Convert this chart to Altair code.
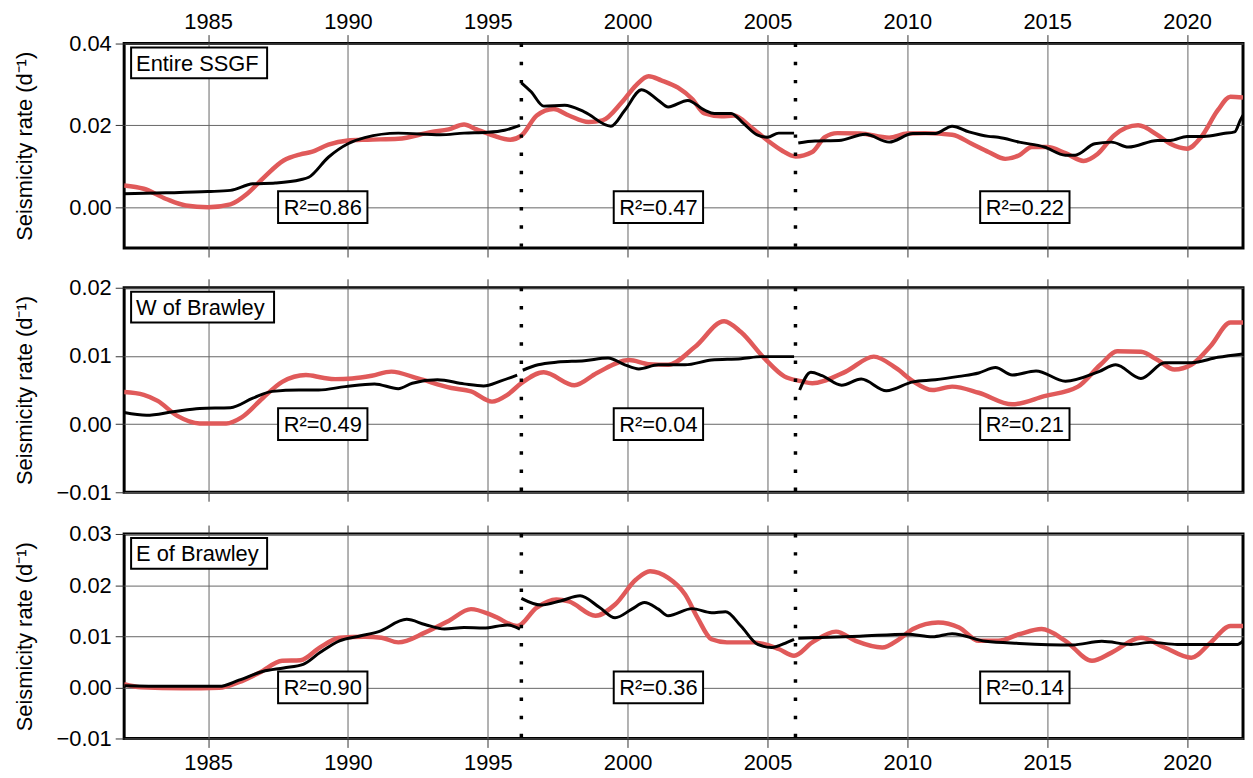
import altair as alt
import pandas as pd

FONT = "Liberation Sans"
RED = "#e05a5a"
YTITLE = "Seismicity rate (d⁻¹)"
X_TICKS = [1985, 1990, 1995, 2000, 2005, 2010, 2015, 2020]
BREAKS = [1996.2, 2006.0]
R2_YEARS = [1989.1, 2001.1, 2014.2]

# ---------------- Panel 1: Entire SSGF ----------------
p1_name = "Entire SSGF"
p1_r2 = ["R²=0.86", "R²=0.47", "R²=0.22"]
p1_red_year = [1982.0, 1982.7, 1983.5, 1984.2, 1985.0, 1985.8, 1986.4, 1987.0, 1987.7, 1988.3,
               1988.7, 1989.3, 1990.0, 1990.7, 1991.8, 1993.0, 1993.6, 1994.15, 1994.6, 1995.2,
               1995.8, 1996.2, 1996.75, 1997.35, 1997.9, 1998.6, 1999.1, 1999.8, 2000.3, 2000.75,
               2001.2, 2001.8, 2002.3, 2002.75, 2003.35, 2003.8, 2004.4, 2005.0, 2005.5, 2006.0,
               2006.6, 2007.05, 2007.5, 2008.3, 2009.35, 2010.0, 2010.65, 2011.6, 2012.3, 2012.9,
               2013.5, 2014.0, 2014.45, 2015.0, 2015.65, 2016.3, 2016.8, 2017.4, 2018.25, 2018.95,
               2019.4, 2020.0, 2020.5, 2021.1, 2021.55, 2022.0]
p1_red_rate = [0.0053, 0.0045, 0.0020, 0.0004, 0.0000, 0.0007, 0.0033, 0.0073, 0.0114, 0.0129,
               0.0135, 0.0153, 0.0163, 0.0165, 0.0167, 0.0184, 0.0190, 0.0202, 0.0190, 0.0175,
               0.0165, 0.0175, 0.0224, 0.0240, 0.0224, 0.0208, 0.0212, 0.0257, 0.0298, 0.0320,
               0.0310, 0.0292, 0.0265, 0.0229, 0.0222, 0.0224, 0.0196, 0.0163, 0.0139, 0.0124,
               0.0135, 0.0171, 0.0181, 0.0180, 0.0170, 0.0180, 0.0181, 0.0177, 0.0155, 0.0135,
               0.0118, 0.0127, 0.0147, 0.0147, 0.0132, 0.0113, 0.0130, 0.0176, 0.0200, 0.0176,
               0.0155, 0.0143, 0.0171, 0.0237, 0.0270, 0.0268]
p1_blk_year = [1982.0, 1983.5, 1985.0, 1985.8, 1986.6, 1987.4, 1988.3, 1988.6, 1989.3, 1990.0,
               1990.6, 1991.8, 1993.3, 1994.15, 1995.0, 1995.6, 1996.15,
               1996.2, 1996.55, 1997.0, 1997.75, 1998.45, 1999.4, 1999.9, 2000.5, 2001.1, 2001.45,
               2002.15, 2002.75, 2003.1, 2003.7, 2004.15, 2004.65, 2005.0, 2005.4, 2005.95,
               2006.1, 2006.7, 2007.55, 2008.5, 2009.35, 2010.2, 2011.0, 2011.6, 2012.2, 2012.9,
               2013.25, 2014.0, 2014.9, 2015.65, 2016.0, 2016.7, 2017.3, 2017.9, 2018.95, 2019.4,
               2020.0, 2020.6, 2021.3, 2021.7, 2021.9, 2022.0]
p1_blk_rate = [0.0033, 0.0035, 0.0038, 0.0041, 0.0057, 0.0059, 0.0067, 0.0073, 0.0122, 0.0155,
               0.0170, 0.0181, 0.0177, 0.0181, 0.0183, 0.0188, 0.0200,
               0.0304, 0.0282, 0.0247, 0.0249, 0.0233, 0.0198, 0.0237, 0.0287, 0.0261, 0.0245,
               0.0261, 0.0237, 0.0229, 0.0229, 0.0204, 0.0176, 0.0171, 0.0181, 0.0181,
               0.0157, 0.0162, 0.0163, 0.0178, 0.0159, 0.0180, 0.0180, 0.0198, 0.0184, 0.0173,
               0.0171, 0.0159, 0.0147, 0.0127, 0.0127, 0.0155, 0.0159, 0.0147, 0.0163, 0.0163,
               0.0173, 0.0173, 0.0180, 0.0184, 0.0212, 0.0225]
p1_blk_seg = [1] * 17 + [2] * 19 + [3] * 26

# ---------------- Panel 2: W of Brawley ----------------
p2_name = "W of Brawley"
p2_r2 = ["R²=0.49", "R²=0.04", "R²=0.21"]
p2_red_year = [1982.0, 1982.7, 1983.2, 1983.9, 1984.7, 1985.65, 1986.2, 1986.95, 1987.65, 1988.5,
               1989.1, 1989.55, 1990.15, 1990.85, 1991.55, 1992.5, 1993.7, 1994.4, 1995.15, 1995.7,
               1996.2, 1997.0, 1998.1, 1998.9, 2000.05, 2000.75, 2001.45, 2002.4, 2003.45, 2004.05,
               2004.9, 2005.6, 2006.2, 2006.6, 2007.8, 2008.8, 2009.6, 2010.2, 2010.9, 2011.6,
               2012.55, 2013.75, 2014.9, 2016.1, 2016.9, 2017.5, 2018.35, 2018.95, 2019.55, 2020.15,
               2020.85, 2021.55, 2022.0]
p2_red_rate = [0.0047, 0.0043, 0.0034, 0.0012, 0.0001, 0.0001, 0.0010, 0.0038, 0.0062, 0.0072,
               0.0068, 0.0066, 0.0067, 0.0071, 0.0077, 0.0067, 0.0053, 0.0048, 0.0033, 0.0043,
               0.0060, 0.0076, 0.0057, 0.0075, 0.0094, 0.0088, 0.0087, 0.0113, 0.0151, 0.0135,
               0.0096, 0.0070, 0.0063, 0.0060, 0.0077, 0.0099, 0.0082, 0.0063, 0.0050, 0.0055,
               0.0046, 0.0029, 0.0041, 0.0055, 0.0087, 0.0107, 0.0106, 0.0094, 0.0080, 0.0087,
               0.0115, 0.0149, 0.0149]
p2_blk_year = [1982.0, 1982.8, 1983.75, 1984.7, 1985.8, 1986.6, 1987.3, 1988.25, 1988.95, 1989.9,
               1990.95, 1991.8, 1992.3, 1993.2, 1994.15, 1994.85, 1995.45, 1996.05,
               1996.25, 1996.8, 1997.5, 1998.45, 1999.3, 1999.9, 2000.4, 2001.1, 2002.05, 2003.0,
               2004.05, 2004.8, 2005.95,
               2006.15, 2006.55, 2006.95, 2007.65, 2008.35, 2009.25, 2010.2, 2011.0, 2011.85, 2012.55,
               2013.15, 2013.75, 2014.6, 2015.65, 2016.85, 2017.45, 2018.35, 2019.2, 2020.15, 2021.1,
               2022.0]
p2_blk_rate = [0.0017, 0.0013, 0.0018, 0.0023, 0.0024, 0.0038, 0.0048, 0.0050, 0.0050, 0.0055,
               0.0059, 0.0052, 0.0060, 0.0065, 0.0059, 0.0056, 0.0063, 0.0072,
               0.0079, 0.0087, 0.0091, 0.0093, 0.0097, 0.0087, 0.0081, 0.0087, 0.0087, 0.0094,
               0.0096, 0.0099, 0.0099,
               0.0050, 0.0076, 0.0071, 0.0057, 0.0066, 0.0049, 0.0062, 0.0065, 0.0070, 0.0075,
               0.0083, 0.0072, 0.0078, 0.0063, 0.0077, 0.0087, 0.0067, 0.0090, 0.0090, 0.0098,
               0.0103]
p2_blk_seg = [1] * 18 + [2] * 13 + [3] * 21

# ---------------- Panel 3: E of Brawley ----------------
p3_name = "E of Brawley"
p3_r2 = ["R²=0.90", "R²=0.36", "R²=0.14"]
p3_red_year = [1982.0, 1982.6, 1984.1, 1985.4, 1986.1, 1986.85, 1987.65, 1988.3, 1989.0, 1989.7,
               1990.6, 1991.2, 1991.8, 1992.75, 1993.6, 1994.4, 1995.2, 1996.05, 1996.75, 1997.45,
               1997.9, 1998.85, 1999.55, 2000.3, 2000.8, 2001.45, 2002.05, 2002.5, 2003.0, 2003.55,
               2004.5, 2005.4, 2005.95, 2006.6, 2007.45, 2008.15, 2009.1, 2009.7, 2010.2, 2011.1,
               2011.85, 2012.55, 2013.25, 2014.0, 2014.8, 2015.65, 2016.6, 2017.3, 2018.35, 2019.2,
               2020.15, 2020.85, 2021.55, 2022.0]
p3_red_rate = [0.0006, 0.0000, -0.0002, -0.0001, 0.0010, 0.0029, 0.0052, 0.0053, 0.0078, 0.0097,
               0.0099, 0.0097, 0.0088, 0.0107, 0.0130, 0.0153, 0.0140, 0.0120, 0.0156, 0.0172,
               0.0168, 0.0140, 0.0162, 0.0211, 0.0227, 0.0214, 0.0182, 0.0136, 0.0094, 0.0088,
               0.0088, 0.0075, 0.0062, 0.0088, 0.0109, 0.0091, 0.0078, 0.0094, 0.0114, 0.0127,
               0.0117, 0.0091, 0.0091, 0.0104, 0.0114, 0.0091, 0.0052, 0.0068, 0.0097, 0.0078,
               0.0058, 0.0088, 0.0120, 0.0120]
p3_blk_year = [1982.0, 1983.5, 1985.4, 1986.1, 1986.95, 1987.7, 1988.4, 1989.0, 1989.7, 1990.4,
               1991.1, 1992.1, 1992.75, 1993.45, 1994.15, 1994.85, 1995.7, 1996.15,
               1996.2, 1996.9, 1997.6, 1998.3, 1999.0, 1999.55, 2000.15, 2000.6, 2001.1, 2001.45,
               2002.3, 2003.0, 2003.5, 2004.05, 2004.65, 2005.15, 2005.7, 2005.95,
               2006.1, 2006.6, 2008.3, 2010.0, 2010.9, 2011.6, 2012.8, 2014.0, 2015.9, 2016.95,
               2018.0, 2018.7, 2019.65, 2020.85, 2021.8, 2022.0]
p3_blk_rate = [0.0003, 0.0002, 0.0002, 0.0014, 0.0031, 0.0038, 0.0045, 0.0068, 0.0091, 0.0100,
               0.0109, 0.0133, 0.0123, 0.0114, 0.0117, 0.0116, 0.0122, 0.0114,
               0.0174, 0.0161, 0.0169, 0.0179, 0.0156, 0.0136, 0.0153, 0.0166, 0.0153, 0.0140,
               0.0154, 0.0146, 0.0148, 0.0120, 0.0084, 0.0078, 0.0088, 0.0094,
               0.0096, 0.0097, 0.0100, 0.0104, 0.0099, 0.0105, 0.0090, 0.0086, 0.0083, 0.0090,
               0.0084, 0.0088, 0.0084, 0.0084, 0.0084, 0.0091]
p3_blk_seg = [1] * 18 + [2] * 18 + [3] * 16

# per-panel axis setup
p1_domain, p1_yticks = [-0.01, 0.04], [0.0, 0.02, 0.04]
p2_domain, p2_yticks = [-0.01, 0.02], [-0.01, 0.0, 0.01, 0.02]
p3_domain, p3_yticks = [-0.01, 0.03], [-0.01, 0.0, 0.01, 0.02, 0.03]

W = 1127
H = 206


def panel(red_y, red_v, blk_y, blk_v, blk_s, domain, yticks, name, name_w, r2_labels,
          top_labels, bottom_labels):
    red = pd.DataFrame({"year": red_y, "rate": red_v})
    blk = pd.DataFrame({"year": blk_y, "rate": blk_v, "seg": blk_s})
    brk = pd.DataFrame({"year": BREAKS})
    r2 = pd.DataFrame({"year": R2_YEARS, "rate": [0.0] * len(R2_YEARS), "label": r2_labels})
    nm = pd.DataFrame({"name": [name]})

    xscale = alt.Scale(domain=[1982, 2022], nice=False, zero=False)
    yscale = alt.Scale(domain=domain, nice=False, zero=False)
    yaxis = alt.Axis(values=yticks, format=".2f", title=YTITLE, grid=True,
                     titleX=-88, titleY=H / 2, titleAngle=270, titleAlign="center",
                     titleBaseline="bottom", labelPadding=4)
    top_axis = alt.Axis(orient="top", values=X_TICKS, format="d", grid=True,
                        labels=top_labels, labelPadding=1, title=None)
    bot_axis = alt.Axis(orient="bottom", values=X_TICKS, format="d", grid=False,
                        labels=bottom_labels, labelPadding=5, title=None)

    red_line = alt.Chart(red).mark_line(color=RED, strokeWidth=4.5, interpolate="monotone",
                                        clip=True).encode(
        x=alt.X("year:Q", scale=xscale, axis=top_axis),
        y=alt.Y("rate:Q", scale=yscale, axis=yaxis),
    )
    blk_line = alt.Chart(blk).mark_line(color="black", strokeWidth=3, interpolate="monotone",
                                        clip=True).encode(
        x=alt.X("year:Q", scale=xscale, axis=bot_axis),
        y=alt.Y("rate:Q", scale=yscale, axis=yaxis),
        detail="seg:N",
    )
    rules = alt.Chart(brk).mark_rule(color="black", strokeWidth=3.5,
                                     strokeDash=[3.5, 14.8]).encode(
        x=alt.X("year:Q", scale=xscale, axis=None),
        y=alt.YDatum(domain[1]),
        y2=alt.Y2Datum(domain[0]),
    )
    boxes = alt.Chart(r2).mark_point(shape="M-1,-0.356H1V0.356H-1Z", size=8100, filled=True,
                                     fill="white", stroke="black", strokeWidth=2,
                                     opacity=1, fillOpacity=1, strokeOpacity=1).encode(
        x=alt.X("year:Q", scale=xscale, axis=None),
        y=alt.Y("rate:Q", scale=yscale, axis=yaxis),
    )
    r2_text = alt.Chart(r2).mark_text(font=FONT, fontSize=22, color="black", align="center",
                                      baseline="middle", dy=1).encode(
        x=alt.X("year:Q", scale=xscale, axis=None),
        y=alt.Y("rate:Q", scale=yscale, axis=yaxis),
        text="label:N",
    )
    name_box = alt.Chart(nm).mark_rect(fill="white", stroke="black", strokeWidth=2).encode(
        x=alt.value(7), x2=alt.value(7 + name_w), y=alt.value(4), y2=alt.value(35),
    )
    name_text = alt.Chart(nm).mark_text(font=FONT, fontSize=22, color="black", align="left",
                                        baseline="middle").encode(
        x=alt.value(12), y=alt.value(20.5), text="name:N",
    )
    return alt.layer(red_line, blk_line, rules, boxes, r2_text, name_box, name_text).resolve_axis(
        x="independent").properties(width=W, height=H)


c1 = panel(p1_red_year, p1_red_rate, p1_blk_year, p1_blk_rate, p1_blk_seg, p1_domain, p1_yticks,
           p1_name, 137, p1_r2, True, False)
c2 = panel(p2_red_year, p2_red_rate, p2_blk_year, p2_blk_rate, p2_blk_seg, p2_domain, p2_yticks,
           p2_name, 144, p2_r2, False, False)
c3 = panel(p3_red_year, p3_red_rate, p3_blk_year, p3_blk_rate, p3_blk_seg, p3_domain, p3_yticks,
           p3_name, 137, p3_r2, False, True)

chart = alt.vconcat(c1, c2, c3, spacing=16).properties(
    padding={"left": 4, "top": -2, "right": 0, "bottom": 0}
).configure_view(
    stroke="black", strokeWidth=3
).configure_axis(
    labelFont=FONT, labelFontSize=22, labelColor="black",
    titleFont=FONT, titleFontSize=22, titleFontWeight="normal", titleColor="black",
    tickSize=9, tickColor="#333333", tickWidth=1,
    gridColor="#666666", gridWidth=1, gridOpacity=1, domain=False,
).configure_text(font=FONT)

chart.save("out.html", embed_options={"renderer": "svg", "actions": False})
